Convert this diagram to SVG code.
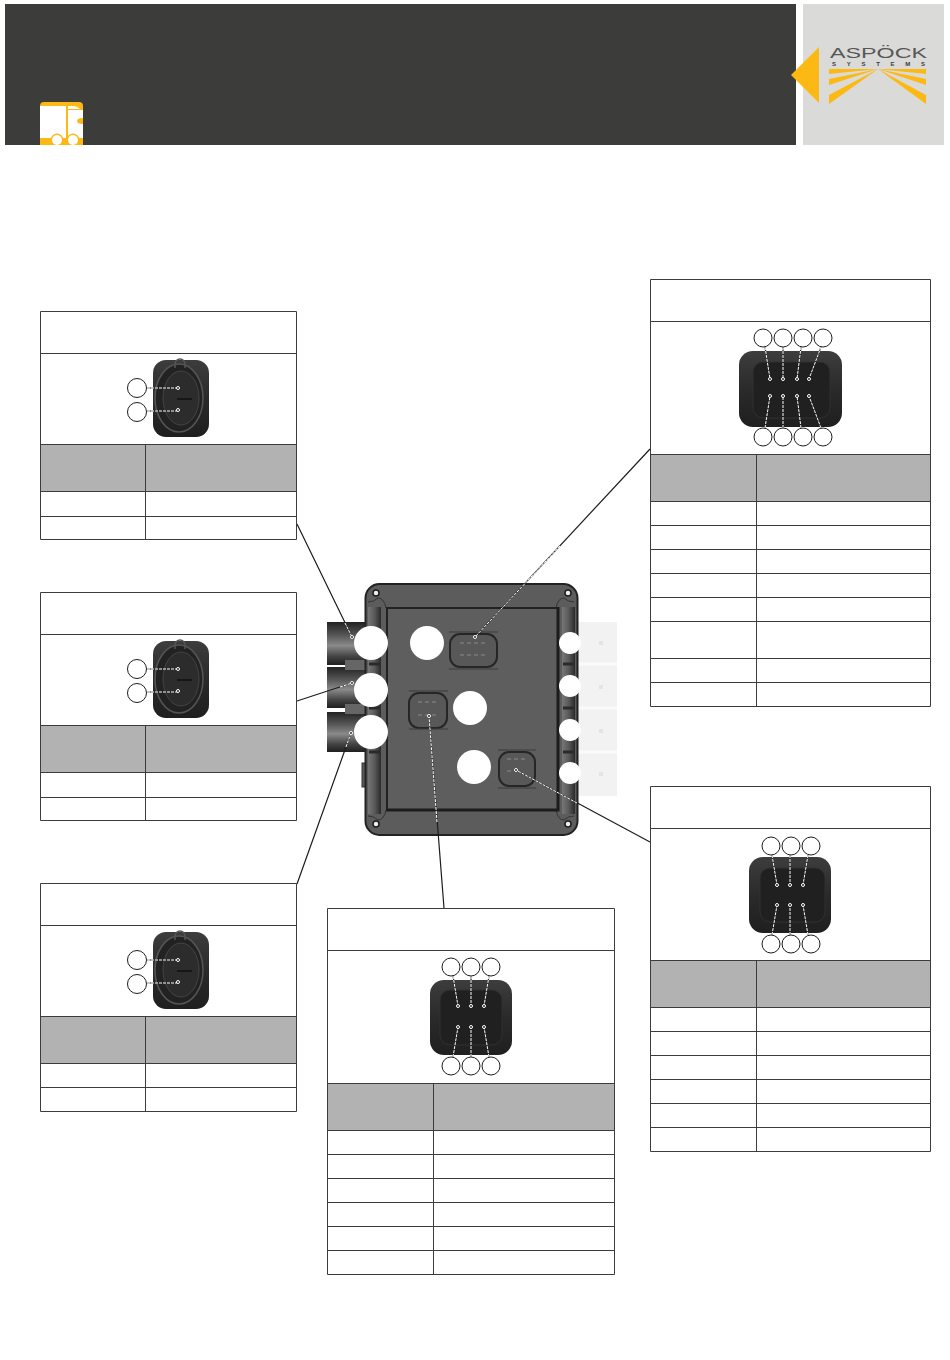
<svg xmlns="http://www.w3.org/2000/svg" width="950" height="1360" viewBox="0 0 950 1360">
<style>
.b{fill:none;stroke:#3c3c3b;stroke-width:1}
.h{fill:#b2b2b2}
.c{fill:#fff;stroke:#1d1d1b;stroke-width:1}
.w{fill:#fff}
.lk{fill:none;stroke:#1d1d1b;stroke-width:1.200}
.ld{fill:none;stroke:#fff;stroke-width:1;stroke-dasharray:3 1}
.y{fill:#fdb913}
.dot{fill:#1d1d1b;stroke:#fff;stroke-width:1}
</style>
<defs>
<clipPath id="iconclip"><rect x="38" y="100" width="47" height="45"/></clipPath>
<linearGradient id="gv" x1="0" y1="0" x2="0" y2="1"><stop offset="0" stop-color="#222"/><stop offset=".3" stop-color="#555"/><stop offset=".55" stop-color="#8a8a8a"/><stop offset=".8" stop-color="#444"/><stop offset="1" stop-color="#1f1f1f"/></linearGradient>
<linearGradient id="gc" x1="0" y1="0" x2="0" y2="1"><stop offset="0" stop-color="#3d3d3d"/><stop offset=".5" stop-color="#2a2a2a"/><stop offset="1" stop-color="#1f1f1f"/></linearGradient>
<linearGradient id="gr" x1="0" y1="0" x2="1" y2="0"><stop offset="0" stop-color="#777"/><stop offset=".5" stop-color="#5a5a5a"/><stop offset="1" stop-color="#2a2a2a"/></linearGradient>
<g id="two">
<rect x="153" y="360" width="56" height="77" rx="13" fill="url(#gc)"/>
<ellipse cx="179" cy="398" rx="24" ry="34" fill="#222" stroke="#555" stroke-width="1.500"/>
<ellipse cx="181" cy="398" rx="18" ry="27" fill="#2c2c2c" stroke="#444"/>
<path d="M175 368v-4a5 5 0 0 1 10 0v4" fill="none" stroke="#555" stroke-width="1.500"/>
<path d="M177 399h15" stroke="#0f0f0f" stroke-width="1.500"/>
<path class="lk" d="M147 388h30M147 411h30"/><path class="ld" d="M147 388h30M147 411h30"/>
<circle class="dot" cx="178" cy="388" r="1.500"/><circle class="dot" cx="178" cy="410" r="1.500"/>
<circle class="c" cx="137" cy="388" r="9.500"/><circle class="c" cx="137" cy="412" r="9.500"/>
</g>
</defs>
<rect width="950" height="1360" fill="#fff"/>
<g id="header">
<rect x="5" y="4" width="791" height="141" fill="#3c3c3b"/>
<rect x="803" y="4" width="141" height="141" fill="#dadad9"/>
</g>
<g id="truck-icon" clip-path="url(#iconclip)">
<path class="y" d="M44 102h35a4 4 0 0 1 4 4v39H40v-39a4 4 0 0 1 4-4z"/>
<path class="w" d="M40 106h26v32H40zM68 110h15v8q-6 0-6 3t6 3v14H68z"/>
<path class="w" d="M68 106h5q4 0 7 3H68z"/>
<circle class="y" cx="57" cy="140" r="6.500"/><circle class="y" cx="73" cy="140" r="6.500"/>
<circle class="w" cx="57" cy="140" r="5"/><circle class="w" cx="73" cy="140" r="5"/>
</g>
<g id="logo">
<path class="y" d="M791 75l28-28v56z"/>
<path class="y" d="M829 69h97v5l-48-5-49 5zM829 79l49-10-49 16zM926 79l-48-10 48 16zM829 95l49-26-49 35zM926 95l-48-26 48 35z"/>
<text x="830" y="58" font-family="Liberation Sans, sans-serif" font-size="14" fill="#575756" textLength="97" lengthAdjust="spacingAndGlyphs">ASPÖCK</text>
<text x="832" y="66" font-family="Liberation Sans, sans-serif" font-weight="bold" font-size="6" fill="#3c3c3b" textLength="93" lengthAdjust="spacing">SYSTEMS</text>
</g>
<g id="device">
<rect x="327" y="622" width="40" height="43" fill="url(#gv)"/>
<rect x="327" y="667" width="40" height="41" fill="url(#gv)"/>
<rect x="327" y="712" width="40" height="40" fill="url(#gv)"/>
<rect x="345" y="660" width="20" height="10" fill="#666"/><rect x="345" y="704" width="20" height="10" fill="#666"/>
<rect x="577" y="622" width="40" height="174" fill="#f2f2f2"/>
<path d="M577 664h40M577 708h40M577 752h40" stroke="#fafafa" stroke-width="3"/>
<g fill="#e4e4e4"><rect x="599" y="641" width="4" height="4"/><rect x="599" y="685" width="4" height="4"/><rect x="599" y="729" width="4" height="4"/><rect x="599" y="772" width="4" height="4"/></g>
<rect x="362" y="763" width="8" height="24" fill="#5a5a5a" stroke="#333"/>
<rect x="365.500" y="584" width="212" height="251" rx="14" fill="#5c5c5c" stroke="#222" stroke-width="2"/>
<rect x="368" y="607" width="13" height="207" fill="url(#gr)"/>
<rect x="562" y="607" width="13" height="207" fill="url(#gr)"/>
<path d="M368 602q6 0 10-4 6 0 8 10M574 602q-6 0-10-4-6 0-8 10M368 816q6 0 10 4 6 0 8-10M574 816q-6 0-10 4-6 0-8-10" fill="none" stroke="#333"/>
<path d="M369 664h11M369 708h11M369 752h11M563 664h11M563 708h11M563 752h11" stroke="#2a2a2a" stroke-width="3"/>
<rect x="387" y="608" width="171" height="202" fill="#5e5e5e"/>
<path d="M387 810V608h171" fill="none" stroke="#222" stroke-width="2"/>
<path d="M386 810h172V607" fill="none" stroke="#1c1c1c" stroke-width="3"/>
<g fill="#eee" stroke="#1d1d1d" stroke-width="1.500"><circle cx="376" cy="593" r="3"/><circle cx="568" cy="593" r="3"/><circle cx="376" cy="824" r="3"/><circle cx="568" cy="824" r="3"/></g>
<g fill="#585858" stroke="#262626" stroke-width="2">
<rect x="450" y="634" width="47" height="33" rx="10"/>
<rect x="409" y="693" width="38" height="35" rx="10"/>
<rect x="499" y="752" width="36" height="34" rx="10"/>
</g>
<path d="M449 632h49M449 669h49M409 691h39M409 729h39M498 750h38M498 788h38" stroke="#3a3a3a" stroke-width="1"/>
<path d="M460 643h4M467 643h4M474 643h4M481 643h4M460 655h4M467 655h4M474 655h4M481 655h4M418 702h4M425 702h4M432 702h4M418 715h4M425 715h4M432 715h4M507 759h4M514 759h4M521 759h4M507 771h4" stroke="#8a8a8a" stroke-width="1"/>
<g class="w">
<circle cx="371" cy="643" r="17"/><circle cx="371" cy="690" r="17"/><circle cx="371" cy="732" r="17"/>
<circle cx="427" cy="643" r="17"/><circle cx="470" cy="708" r="17"/><circle cx="474" cy="767" r="17"/>
<circle cx="570" cy="643" r="11"/><circle cx="570" cy="686" r="11"/><circle cx="570" cy="730" r="11"/><circle cx="570" cy="773" r="11"/>
</g>
</g>
<g id="connectors">
<path class="lk" d="M297 524L352 637M297 701L352 683M297 884L351 733M650 449L475 637M444 908L429 716M650 842L516 770"/>
<path class="ld" d="M345 623L352 637M340 687L352 683M346 747L351 733M560 546L475 637M437 822L429 716M577 803L516 770"/>
<circle class="dot" cx="352" cy="637" r="1.500"/><circle class="dot" cx="352" cy="683" r="1.500"/><circle class="dot" cx="351" cy="733" r="1.500"/><circle class="dot" cx="475" cy="637" r="1.500"/><circle class="dot" cx="429" cy="716" r="1.500"/><circle class="dot" cx="516" cy="770" r="1.500"/>
</g>
<g id="table-1">
<rect class="h" x="40" y="444" width="257" height="47"/>
<path class="b" d="M40.500 311.500h256v228h-256zM40.500 353.500h256M40.500 444.500h256M40.500 491.500h256M40.500 516.500h256M145.500 444v96"/>
<use href="#two"/>
</g>
<g id="table-2">
<rect class="h" x="40" y="725" width="257" height="47"/>
<path class="b" d="M40.500 592.500h256v228h-256zM40.500 634.500h256M40.500 725.500h256M40.500 772.500h256M40.500 797.500h256M145.500 725v96"/>
<use href="#two" y="281"/>
</g>
<g id="table-3">
<rect class="h" x="40" y="1016" width="257" height="47"/>
<path class="b" d="M40.500 883.500h256v228h-256zM40.500 925.500h256M40.500 1016.500h256M40.500 1063.500h256M40.500 1087.500h256M145.500 1016v96"/>
<use href="#two" y="572"/>
</g>
<g id="table-4">
<rect class="h" x="327" y="1083" width="288" height="47"/>
<path class="b" d="M327.500 908.500h287v366h-287zM327.500 950.500h287M327.500 1083.500h287M327.500 1130.500h287M327.500 1154.500h287M327.500 1178.500h287M327.500 1202.500h287M327.500 1226.500h287M327.500 1250.500h287M433.500 1083v192"/>
<rect x="430" y="980" width="82" height="75" rx="14" fill="url(#gc)"/>
<rect x="440" y="990" width="62" height="55" rx="10" fill="#202020" stroke="#303030"/>
<path class="lk" d="M453 976L458 1006M471 976V1006M489 976L484 1006M453 1057L458 1027M471 1057V1027M489 1057L484 1027"/>
<path class="ld" d="M453 976L458 1006M471 976V1006M489 976L484 1006M453 1057L458 1027M471 1057V1027M489 1057L484 1027"/>
<g class="dot"><circle cx="458" cy="1006" r="1.500"/><circle cx="471" cy="1006" r="1.500"/><circle cx="484" cy="1006" r="1.500"/><circle cx="458" cy="1027" r="1.500"/><circle cx="471" cy="1027" r="1.500"/><circle cx="484" cy="1027" r="1.500"/></g>
<g class="c"><circle cx="451" cy="967" r="9"/><circle cx="471" cy="967" r="9"/><circle cx="491" cy="967" r="9"/><circle cx="451" cy="1066" r="9"/><circle cx="471" cy="1066" r="9"/><circle cx="491" cy="1066" r="9"/></g>
</g>
<g id="table-5">
<rect class="h" x="650" y="454" width="280" height="47"/>
<path class="b" d="M650.500 279.500h280v427h-280zM650.500 321.500h280M650.500 454.500h280M650.500 501.500h280M650.500 525.500h280M650.500 549.500h280M650.500 573.500h280M650.500 597.500h280M650.500 621.500h280M650.500 658.500h280M650.500 682.500h280M756.500 454v253"/>
<rect x="739" y="351" width="103" height="76" rx="14" fill="url(#gc)"/>
<rect x="753" y="362" width="77" height="56" rx="10" fill="#202020" stroke="#303030"/>
<path class="lk" d="M765 347L770 379M783 347V379M801 347L797 379M821 347L809 379M765 428L770 396M783 428V396M801 428L797 396M821 428L809 396"/>
<path class="ld" d="M765 347L770 379M783 347V379M801 347L797 379M821 347L809 379M765 428L770 396M783 428V396M801 428L797 396M821 428L809 396"/>
<g class="dot"><circle cx="770" cy="379" r="1.500"/><circle cx="783" cy="379" r="1.500"/><circle cx="797" cy="379" r="1.500"/><circle cx="809" cy="379" r="1.500"/><circle cx="770" cy="396" r="1.500"/><circle cx="783" cy="396" r="1.500"/><circle cx="797" cy="396" r="1.500"/><circle cx="809" cy="396" r="1.500"/></g>
<g class="c"><circle cx="763" cy="338" r="9"/><circle cx="783" cy="338" r="9"/><circle cx="803" cy="338" r="9"/><circle cx="823" cy="338" r="9"/><circle cx="763" cy="437" r="9"/><circle cx="783" cy="437" r="9"/><circle cx="803" cy="437" r="9"/><circle cx="823" cy="437" r="9"/></g>
</g>
<g id="table-6">
<rect class="h" x="650" y="960" width="280" height="47"/>
<path class="b" d="M650.500 786.500h280v365h-280zM650.500 828.500h280M650.500 960.500h280M650.500 1007.500h280M650.500 1031.500h280M650.500 1055.500h280M650.500 1079.500h280M650.500 1103.500h280M650.500 1127.500h280M756.500 960v192"/>
<rect x="749" y="857" width="82" height="76" rx="14" fill="url(#gc)"/>
<rect x="760" y="868" width="65" height="54" rx="10" fill="#202020" stroke="#303030"/>
<path class="lk" d="M772 855L777 885M790 855V885M808 855L803 885M772 935L777 905M790 935V905M808 935L803 905"/>
<path class="ld" d="M772 855L777 885M790 855V885M808 855L803 885M772 935L777 905M790 935V905M808 935L803 905"/>
<g class="dot"><circle cx="777" cy="885" r="1.500"/><circle cx="790" cy="885" r="1.500"/><circle cx="803" cy="885" r="1.500"/><circle cx="777" cy="905" r="1.500"/><circle cx="790" cy="905" r="1.500"/><circle cx="803" cy="905" r="1.500"/></g>
<g class="c"><circle cx="771" cy="846" r="9"/><circle cx="791" cy="846" r="9"/><circle cx="811" cy="846" r="9"/><circle cx="771" cy="944" r="9"/><circle cx="791" cy="944" r="9"/><circle cx="811" cy="944" r="9"/></g>
</g>
</svg>
